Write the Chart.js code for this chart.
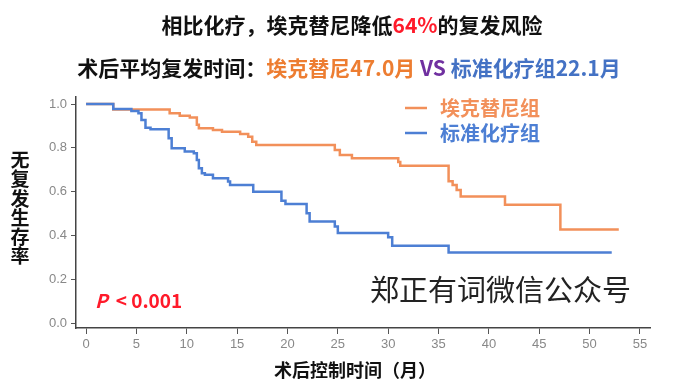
<!DOCTYPE html>
<html><head><meta charset="utf-8">
<script src="https://cdn.jsdelivr.net/npm/chart.js@4.4.1/dist/chart.umd.min.js"></script>
<style>html,body{margin:0;padding:0;background:#fff;overflow:hidden}#wrap{width:673px;height:389px;position:relative}</style>
</head><body><div id="wrap"><canvas id="c" width="673" height="389"></canvas></div>
<script>
// ---- data ----
const seriesNames = ['埃克替尼组', '标准化疗组'];
const orangeTimes = [0, 2.7, 8.3, 9.3, 10.3, 11.0, 11.2, 12.6, 13.5, 15.3, 16.1, 16.5, 16.9, 24.7, 25.2, 26.4, 31.0, 31.2, 36.0, 36.4, 36.8, 37.2, 41.6, 47.1, 52.9];
const orangeSurv  = [1.0, 0.975, 0.958, 0.947, 0.938, 0.905, 0.889, 0.881, 0.874, 0.863, 0.851, 0.828, 0.813, 0.79, 0.767, 0.752, 0.735, 0.718, 0.648, 0.63, 0.608, 0.578, 0.540, 0.428, 0.428];
const blueTimes = [0, 2.7, 4.5, 5.2, 5.5, 5.9, 6.4, 8.2, 8.5, 9.8, 10.7, 11.0, 11.2, 11.5, 11.8, 12.6, 14.1, 14.3, 16.6, 19.4, 19.8, 21.9, 22.2, 24.7, 25.0, 30.0, 30.4, 36.0, 52.2];
const blueSurv  = [1.0, 0.977, 0.968, 0.958, 0.927, 0.892, 0.885, 0.844, 0.798, 0.783, 0.775, 0.745, 0.707, 0.684, 0.677, 0.661, 0.646, 0.631, 0.600, 0.559, 0.544, 0.502, 0.464, 0.441, 0.411, 0.392, 0.353, 0.323, 0.323];
const xTicks = [0, 5, 10, 15, 20, 25, 30, 35, 40, 45, 50, 55];
const yTicks = [0.0, 0.2, 0.4, 0.6, 0.8, 1.0];
const titleLine1 = [['相比化疗，埃克替尼降低', '#111111'], ['64%', '#ff1a2a'], ['的复发风险', '#111111']];
const titleLine2 = [['术后平均复发时间：', '#111111'], ['埃克替尼47.0月', '#ed7d31'], [' VS ', '#7030a0'], ['标准化疗组22.1月', '#4472c4']];
const yTitle = '无复发生存率';
const xTitle = '术后控制时间（月）';
const pText = ['P', '< 0.001'];
const watermark = '郑正有词微信公众号';

const ORANGE = '#f2905a', BLUE = '#4d7fd4';
const CJK = "'Noto Sans CJK SC', 'Noto Sans', sans-serif";
const pts = (xs, ys) => xs.map((x, i) => ({x, y: ys[i]}));

const annot = {
  id: 'annot',
  afterDraw(chart) {
    const ctx = chart.ctx;
    ctx.save();
    ctx.textBaseline = 'middle';
    function line(parts, font, cx, y) {
      ctx.font = font;
      const w = parts.reduce((s, p) => s + ctx.measureText(p[0]).width, 0);
      let x = cx - w / 2;
      ctx.textAlign = 'left';
      parts.forEach(p => { ctx.fillStyle = p[1]; ctx.fillText(p[0], x, y); x += ctx.measureText(p[0]).width; });
    }
    line(titleLine1, 'bold 21px ' + CJK, 352, 25);
    line(titleLine2, 'bold 21px ' + CJK, 349, 68);
    // legend
    const leg = [[ORANGE, 108], [BLUE, 133]];
    leg.forEach((l, i) => {
      ctx.strokeStyle = l[0]; ctx.lineWidth = 2.5;
      ctx.beginPath(); ctx.moveTo(405, l[1]); ctx.lineTo(427, l[1]); ctx.stroke();
      ctx.fillStyle = l[0]; ctx.font = 'bold 20px ' + CJK; ctx.textAlign = 'left';
      ctx.fillText(seriesNames[i], 440, l[1]);
    });
    // y title stacked
    ctx.fillStyle = '#111'; ctx.font = 'bold 19px ' + CJK; ctx.textAlign = 'center';
    [...yTitle].forEach((ch, i) => ctx.fillText(ch, 20, 160 + i * 19.2));
    // x title
    ctx.font = 'bold 18px ' + CJK; ctx.fillText(xTitle, 355, 370);
    // P value
    ctx.textAlign = 'left'; ctx.fillStyle = '#ff1a2a';
    ctx.font = 'italic bold 19px ' + CJK; ctx.fillText(pText[0], 95, 301);
    const pw = ctx.measureText(pText[0]).width;
    ctx.font = 'bold 19px ' + CJK; ctx.fillText(pText[1], 95 + pw + 8, 301);
    // watermark
    ctx.fillStyle = '#222'; ctx.font = '29px ' + CJK; ctx.fillText(watermark, 370, 290);
    ctx.restore();
  }
};

new Chart(document.getElementById('c'), {
  type: 'line',
  data: {
    datasets: [
      {label: seriesNames[0], data: pts(orangeTimes, orangeSurv), borderColor: ORANGE, borderWidth: 2.5, pointRadius: 0, stepped: 'before', fill: false, order: 2},
      {label: seriesNames[1], data: pts(blueTimes, blueSurv), borderColor: BLUE, borderWidth: 2.5, pointRadius: 0, stepped: 'before', fill: false, order: 1}
    ]
  },
  options: {
    responsive: false, animation: false, devicePixelRatio: 1,
    layout: {padding: {top: 97, left: 0, right: 23, bottom: 0}},
    plugins: {legend: {display: false}, tooltip: {enabled: false}, title: {display: false}},
    scales: {
      x: {
        type: 'linear', min: -1, max: 56,
        afterFit: s => { s.height = 61; },
        afterBuildTicks: s => { s.ticks = xTicks.map(v => ({value: v})); },
        grid: {drawOnChartArea: false, drawTicks: true, tickLength: 6, color: '#555', lineWidth: 1},
        border: {display: true, color: '#444', width: 1.5},
        ticks: {color: '#888', padding: 3, maxRotation: 0, font: {family: "'Liberation Sans Narrow', 'Liberation Sans', sans-serif", size: 13}, callback: v => String(v)}
      },
      y: {
        min: -0.022, max: 1.032,
        afterFit: s => { s.width = 76; },
        afterBuildTicks: s => { s.ticks = yTicks.map(v => ({value: v})); },
        grid: {drawOnChartArea: false, drawTicks: true, tickLength: 5, color: '#555', lineWidth: 1},
        border: {display: true, color: '#444', width: 1.5},
        ticks: {color: '#888', padding: 4, font: {family: "'Liberation Sans Narrow', 'Liberation Sans', sans-serif", size: 13}, callback: v => Number(v).toFixed(1)}
      }
    }
  },
  plugins: [annot]
});
</script></body></html>
